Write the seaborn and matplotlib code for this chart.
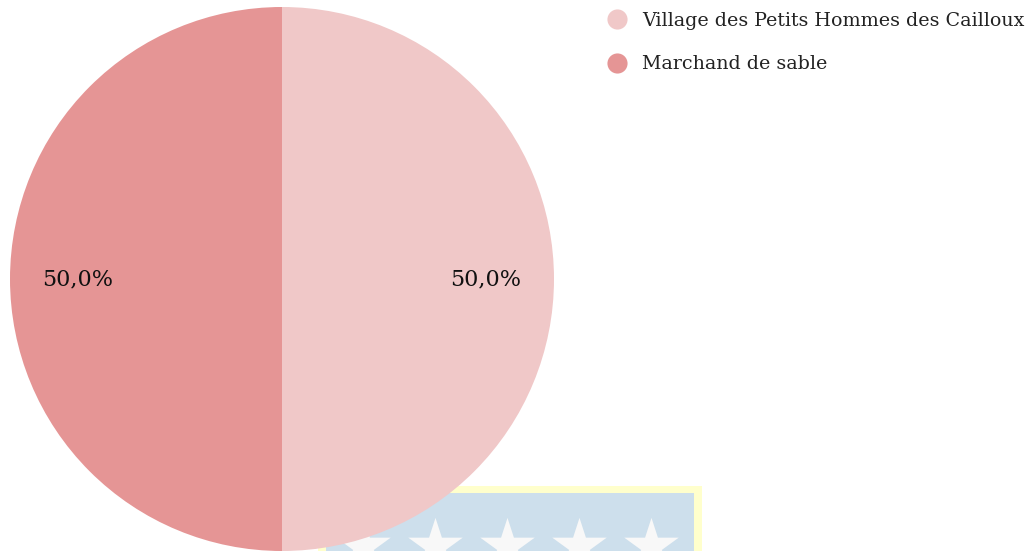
import matplotlib
matplotlib.use("Agg")
import matplotlib.pyplot as plt
from matplotlib.lines import Line2D
from matplotlib.patches import Rectangle
import seaborn as sns

labels = ["Village des Petits Hommes des Cailloux", "Marchand de sable"]
values = [50.0, 50.0]
colors = ["#f0c8c8", "#e59595"]

sns.set_theme(style="white")
plt.rcParams["font.family"] = ["DejaVu Serif"]

W, H = 1036, 551
fig = plt.figure(figsize=(W / 100, H / 100), dpi=100)

# decorative background picture (flag-like banner) behind the pie, in pixel coords
bg = fig.add_axes([0, 0, 1, 1])
bg.set_xlim(0, W)
bg.set_ylim(H, 0)
bg.axis("off")
bg.add_patch(Rectangle((318, 486), 384, 80, facecolor="#ffffcc", edgecolor="none"))
bg.add_patch(Rectangle((326, 493), 368, 80, facecolor="#cddfec", edgecolor="none"))
bg.scatter([363, 435, 507, 579, 651], [546] * 5, marker="*", s=1700,
           color="#f8f8f8", linewidths=0)

# pie
ax = fig.add_axes([10 / W, 0, 544 / W, 544 / H])
wedges, texts, autotexts = ax.pie(
    values, colors=colors, startangle=90, counterclock=False,
    autopct=lambda p: f"{p:.1f}%".replace(".", ","), pctdistance=0.75,
    wedgeprops={"linewidth": 0},
    textprops={"fontsize": 16, "color": "#111111"},
)
ax.set_xlim(-1, 1)
ax.set_ylim(-1, 1)
ax.set_aspect("equal")

handles = [Line2D([], [], marker="o", linestyle="none", markersize=14.5,
                  markerfacecolor=c, markeredgewidth=0) for c in colors]
fig.legend(handles, labels, loc="upper left", bbox_to_anchor=(590 / W, 1 - 4 / H),
           frameon=False, fontsize=13.7, labelspacing=1.35, handletextpad=0.35,
           borderaxespad=0, labelcolor="#222222")

fig.savefig("out.png", dpi=100)
